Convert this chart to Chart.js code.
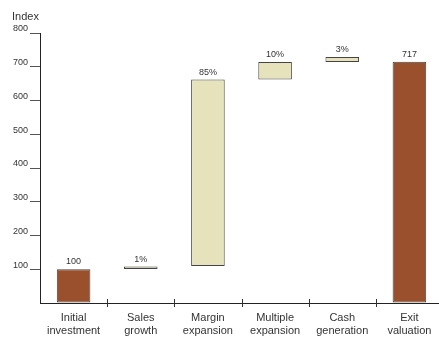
<!DOCTYPE html>
<html>
<head>
<meta charset="utf-8">
<script src="https://cdn.jsdelivr.net/npm/chart.js@4/dist/chart.umd.min.js"></script>
<style>
  html, body { margin: 0; padding: 0; background: #fff; overflow: hidden; }
  #wrap { width: 439px; height: 337px; overflow: hidden; position: relative; }
  #wrap canvas { display: block; }
</style>
</head>
<body>
<div id="wrap"><canvas id="chart" width="443" height="337"></canvas></div>
<script>
const CATEGORIES = [
  ["Initial", "investment"],
  ["Sales", "growth"],
  ["Margin", "expansion"],
  ["Multiple", "expansion"],
  ["Cash", "generation"],
  ["Exit", "valuation"],
];
const BAR_LOW = [0, 101, 110, 662, 714, 0];
const BAR_HIGH = [100, 108, 662, 714, 729, 715];
const BAR_LABELS = ["100", "1%", "85%", "10%", "3%", "717"];
const BAR_KIND = ["total", "step", "step", "step", "step", "total"];
const Y_TICKS = [100, 200, 300, 400, 500, 600, 700, 800];

const BROWN = "#9a502d";
const BEIGE = "#e6e3bc";
const TEXT = "#333";

const extras = {
  id: "extras",
  afterDatasetsDraw(chart) {
    const ctx = chart.ctx;
    const meta = chart.getDatasetMeta(0);
    ctx.save();
    ctx.fillStyle = TEXT;
    ctx.font = "9px 'Liberation Sans', Arial, sans-serif";
    ctx.textAlign = "center";
    ctx.textBaseline = "alphabetic";
    meta.data.forEach((bar, i) => {
      const top = Math.min(bar.y, bar.base);
      ctx.fillText(BAR_LABELS[i], bar.x, top - 5);
    });

    // axis title
    ctx.font = "11px 'Liberation Sans', Arial, sans-serif";
    ctx.textAlign = "left";
    ctx.textBaseline = "middle";
    ctx.fillText("Index", 12, 17);

    // category separator ticks crossing the x axis
    const xs = chart.scales.x;
    const y0 = chart.chartArea.bottom;
    ctx.strokeStyle = "#333";
    ctx.lineWidth = 1;
    for (let i = 1; i < CATEGORIES.length; i++) {
      const x = Math.round((xs.getPixelForValue(i - 1) + xs.getPixelForValue(i)) / 2) + 0.5;
      ctx.beginPath();
      ctx.moveTo(x, y0 - 4);
      ctx.lineTo(x, y0 + 4);
      ctx.stroke();
    }
    ctx.restore();
  },
};

new Chart(document.getElementById("chart"), {
  type: "bar",
  data: {
    labels: CATEGORIES,
    datasets: [{
      data: BAR_LOW.map((lo, i) => [lo, BAR_HIGH[i]]),
      backgroundColor: BAR_KIND.map((k) => (k === "total" ? BROWN : BEIGE)),
      borderColor: "#444",
      borderWidth: 1,
      borderSkipped: false,
      barPercentage: 0.5,
      categoryPercentage: 1,
    }],
  },
  options: {
    responsive: false,
    animation: false,
    layout: { padding: { top: 33, right: 0, left: 0, bottom: 0 } },
    plugins: { legend: { display: false }, tooltip: { enabled: false } },
    scales: {
      x: {
        grid: { display: false, offset: true, drawTicks: false, tickLength: 0 },
        border: { display: true, color: "#222", width: 1 },
        ticks: {
          color: TEXT,
          font: { family: "'Liberation Sans', Arial, sans-serif", size: 11, lineHeight: 1.2 },
          padding: 8,
          maxRotation: 0,
          autoSkip: false,
        },
        afterFit(scale) { scale.height = 34; },
      },
      y: {
        min: 0,
        max: 800,
        afterBuildTicks(scale) { scale.ticks = [0, ...Y_TICKS].map((v) => ({ value: v })); },
        grid: {
          drawOnChartArea: false,
          drawTicks: true,
          tickLength: 10,
          color: (c) => (c.tick && c.tick.value === 0 ? "rgba(0,0,0,0)" : "#555"),
        },
        border: { display: true, color: "#222", width: 1 },
        ticks: {
          color: TEXT,
          font: { family: "'Liberation Sans', Arial, sans-serif", size: 9 },
          padding: 2,
          labelOffset: -4,
          callback: (v) => (v === 0 ? "" : String(v)),
        },
        afterFit(scale) { scale.width = 40; },
      },
    },
  },
  plugins: [extras],
});
</script>
</body>
</html>
